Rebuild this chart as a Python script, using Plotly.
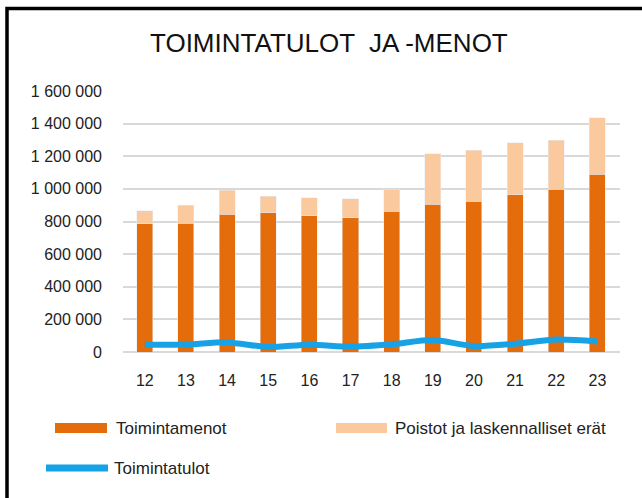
import plotly.graph_objects as go

vuodet = ["12", "13", "14", "15", "16", "17", "18", "19", "20", "21", "22", "23"]
toimintamenot = [785000, 789000, 844000, 854000, 836000, 823000, 864000, 907000, 924000, 963000, 997000, 1089000]
poistot = [81000, 110000, 149000, 101000, 110000, 115000, 133000, 307000, 314000, 320000, 301000, 346000]
toimintatulot = [45000, 45000, 59000, 31000, 45000, 33000, 47000, 73000, 37000, 51000, 76000, 65000]

tumma = "#E46C0A"
vaalea = "#FAC99E"
sininen = "#17A2E6"
fontti = "Liberation Sans, Arial, sans-serif"

# plot area in page pixels
L, R, T, B = 123, 620, 91, 352
W, H = R - L, B - T


def px(x):
    return (x - L) / W


def py(y):
    return (B - y) / H


fig = go.Figure()

fig.add_trace(go.Bar(x=vuodet, y=toimintamenot, marker_color=tumma, width=0.39,
                     name="Toimintamenot"))
fig.add_trace(go.Bar(x=vuodet, y=poistot, marker_color=vaalea, width=0.39,
                     name="Poistot ja laskennalliset erät"))
fig.add_trace(go.Scatter(x=vuodet, y=toimintatulot, mode="lines", name="Toimintatulot",
                         line=dict(color=sininen, width=6, shape="spline", smoothing=0.8)))

# legend drawn by hand so the keys can be wide bars like the original
shapes = [
    dict(type="rect", xref="paper", yref="paper",
         x0=px(7), x1=px(700), y0=py(560), y1=py(8.5),
         line=dict(color="black", width=3.5)),
    dict(type="rect", xref="paper", yref="paper",
         x0=px(55), x1=px(107), y0=py(433), y1=py(423),
         fillcolor=tumma, line=dict(width=0)),
    dict(type="rect", xref="paper", yref="paper",
         x0=px(336), x1=px(387), y0=py(433), y1=py(423),
         fillcolor=vaalea, line=dict(width=0)),
    dict(type="line", xref="paper", yref="paper",
         x0=px(46), x1=px(108), y0=py(468), y1=py(468),
         line=dict(color=sininen, width=7)),
]

annotations = [
    dict(text="TUNNUSLUVUT", xref="paper", yref="paper", x=px(-3), xanchor="left",
         y=py(6), yanchor="bottom", showarrow=False,
         font=dict(family=fontti, size=22, color="black")),
    dict(text="TOIMINTATULOT  JA -MENOT", xref="paper", yref="paper", x=px(329),
         xanchor="center", y=py(43), yanchor="middle", showarrow=False,
         font=dict(family=fontti, size=26, color="#111111")),
    dict(text="Toimintamenot", xref="paper", yref="paper", x=px(114), xanchor="left",
         y=py(428), yanchor="middle", showarrow=False,
         font=dict(family=fontti, size=17, color="#222222")),
    dict(text="Poistot ja laskennalliset erät", xref="paper", yref="paper", x=px(393),
         xanchor="left", y=py(428), yanchor="middle", showarrow=False,
         font=dict(family=fontti, size=17, color="#222222")),
    dict(text="Toimintatulot", xref="paper", yref="paper", x=px(112), xanchor="left",
         y=py(468), yanchor="middle", showarrow=False,
         font=dict(family=fontti, size=17, color="#222222")),
]

fig.update_layout(
    width=642, height=498,
    margin=dict(l=L, r=642 - R, t=T, b=498 - B),
    paper_bgcolor="white", plot_bgcolor="white",
    barmode="stack",
    separators=", ",
    showlegend=False,
    font=dict(family=fontti, size=16, color="#222222"),
    xaxis=dict(type="category", range=[-0.53, 11.55], showgrid=False, ticks="",
               showline=False, ticklabelstandoff=17, tickfont=dict(size=16)),
    yaxis=dict(range=[0, 1600000], dtick=200000, tickformat=",d", gridcolor="#D9D9D9",
               gridwidth=1.5, zeroline=True, zerolinecolor="#D9D9D9", zerolinewidth=1.5,
               showline=False, ticks="", ticklabelstandoff=20, tickfont=dict(size=16)),
    shapes=shapes,
    annotations=annotations,
)

fig.write_html("out.html", config={"displayModeBar": False},
               post_script="document.body.style.margin = '0px';")
